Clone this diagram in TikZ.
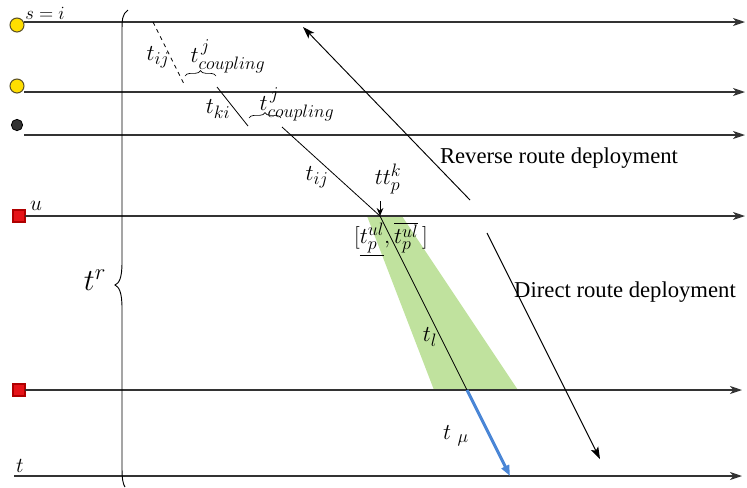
\RequirePackage{fix-cm}
\documentclass[tikz,border=0pt]{standalone}
\usepackage{fontspec}
\setmainfont{Liberation Serif}
\usetikzlibrary{arrows.meta,decorations.pathreplacing}
\newcommand\msub[1]{\hbox{\fontsize{13.5}{15}\selectfont$#1$}}
\newcommand\msubbig[1]{\hbox{\fontsize{17}{19}\selectfont$#1$}}
\definecolor{ballyellow}{RGB}{255,222,0}
\definecolor{balledge}{RGB}{90,80,40}
\definecolor{sqred}{RGB}{230,20,25}
\definecolor{sqedge}{RGB}{175,0,0}
\definecolor{zonegreen}{RGB}{192,226,158}
\definecolor{flowblue}{RGB}{74,134,214}
\begin{document}
\begin{tikzpicture}[x=0.75pt,y=-0.75pt,
  hline/.style={line width=1pt, draw=black!80, -{Stealth[length=9pt,width=6pt,inset=2.5pt]}},
  diag/.style={line width=0.6pt, draw=black},
  route/.style={line width=0.7pt, draw=black, -{Stealth[length=9pt,width=6pt,inset=2pt]}},
  lbl/.style={inner sep=0pt, font=\fontsize{17}{20}\selectfont},
  bigtxt/.style={inner sep=0pt, font=\fontsize{17}{20}\selectfont},
  ball/.style={circle, draw=balledge, line width=0.8pt, fill=ballyellow, minimum size=10.5pt, inner sep=0pt},
  darkball/.style={circle, draw=black, line width=0.6pt, fill=black!80, minimum size=8.5pt, inner sep=0pt},
  sq/.style={rectangle, draw=sqedge, line width=0.8pt, fill=sqred, minimum size=9pt, inner sep=0pt},
  smallbrace/.style={decorate, decoration={brace, amplitude=4pt}, line width=0.5pt}
]
\useasboundingbox (0,0) rectangle (747,487);

% green zone
\fill[zonegreen] (367,216) -- (402,216) -- (518,390) -- (434,390) -- cycle;

% markers
\node[ball] (m1) at (17,25) {};
\node[ball] (m2) at (17,86) {};
\node[darkball] (m3) at (17,125) {};
\node[sq] (m4) at (19,216) {};
\node[sq] (m5) at (19,390) {};

% horizontal line endpoints
\coordinate (l1s) at (24,22);  \coordinate (l1e) at (745,22);
\coordinate (l2s) at (24,92);  \coordinate (l2e) at (745,92);
\coordinate (l3s) at (24,135); \coordinate (l3e) at (745,135);
\coordinate (l4s) at (25,216); \coordinate (l4e) at (745,216);
\coordinate (l5s) at (25,390); \coordinate (l5e) at (742,390);
\coordinate (l6s) at (14,476); \coordinate (l6e) at (742,476);

\draw[hline] (l1s) -- (l1e);
\draw[hline] (l2s) -- (l2e);
\draw[hline] (l3s) -- (l3e);
\draw[hline] (l4s) -- (l4e);
\draw[hline] (l5s) -- (l5e);
\draw[hline] (l6s) -- (l6e);

% left labels
\node[inner sep=0pt, font=\fontsize{14}{16}\selectfont] (lsi) at (45,13) {$s=i$};
\node[inner sep=0pt, font=\fontsize{16}{18}\selectfont] (lu) at (36,206) {$u$};
\node[inner sep=0pt, font=\fontsize{16}{18}\selectfont] (lt) at (20,466) {$t$};

% big brace
\draw[line width=0.7pt] (128,10) .. controls (122,14) and (122,20) .. (122,32) -- (122,262)
  .. controls (122,279) and (119,283) .. (115,285)
  .. controls (119,287) and (122,292) .. (122,308) -- (122,468)
  .. controls (122,479) and (123,484) .. (125,487);
\node[inner sep=0pt, font=\fontsize{23}{26}\selectfont] (ltr) at (95,280) {$t^{\msubbig{r}}$};

% path segments
\coordinate (d1a) at (153,22);  \coordinate (d1b) at (185,86);
\coordinate (d2a) at (217,87);  \coordinate (d2b) at (248,126);
\coordinate (d3a) at (282,127); \coordinate (pk) at (380,216);
\coordinate (pl) at (467,390);  \coordinate (pm) at (510,476);

\draw[diag, dashed] (d1a) -- (d1b);
\draw[diag] (d2a) -- (d2b);
\draw[diag] (d3a) -- (pk);
\draw[diag] (pk) -- (pl);
\draw[line width=2.2pt, flowblue, -{Triangle[length=8pt,width=6pt]}] (pl) -- (pm);

% small braces
\coordinate (b1a) at (185,76); \coordinate (b1b) at (216,76);
\coordinate (b2a) at (249,118); \coordinate (b2b) at (281,118);
\draw[smallbrace] (b1a) -- (b1b);
\draw[smallbrace] (b2a) -- (b2b);

% labels
\node[lbl] (tij1) at (158,57) {$t_{\msub{ij}}$};
\node[lbl] (tc1) at (228,56) {$t^{\,\msub{j}}_{\msub{coupling}}$};
\node[lbl] (tki) at (218,109) {$t_{\msub{ki}}$};
\node[lbl] (tc2) at (297,104) {$t^{\,\msub{j}}_{\msub{coupling}}$};
\node[lbl] (tij2) at (317,177) {$t_{\msub{ij}}$};
\node[lbl] (ttk) at (388,179) {$tt^{\msub{k}}_{\msub{p}}$};
\coordinate (ttkarrow) at (380,201);
\draw[line width=0.7pt, -{Stealth[length=6pt,width=5pt]}] (ttkarrow) -- (pk);
\node[lbl] (intv) at (391,239) {$[\underline{t^{\msub{ul}}_{\msub{p}}},\overline{t^{\msub{ul}}_{\msub{p}}}\,]$};
\node[lbl] (tl) at (430,337) {$t_{\msub{l}}$};
\node[lbl] (tmu) at (456,436) {$t\;_{\msub{\mu}}$};

% routes
\coordinate (r1a) at (470,200); \coordinate (r1b) at (303,27);
\coordinate (r2a) at (487,233); \coordinate (r2b) at (600,459);
\draw[route] (r1a) -- (r1b);
\draw[route] (r2a) -- (r2b);
\node[bigtxt] (rev) at (559,158) {Reverse route deployment};
\node[bigtxt] (dir) at (625,292) {Direct route deployment};
\end{tikzpicture}
\end{document}
